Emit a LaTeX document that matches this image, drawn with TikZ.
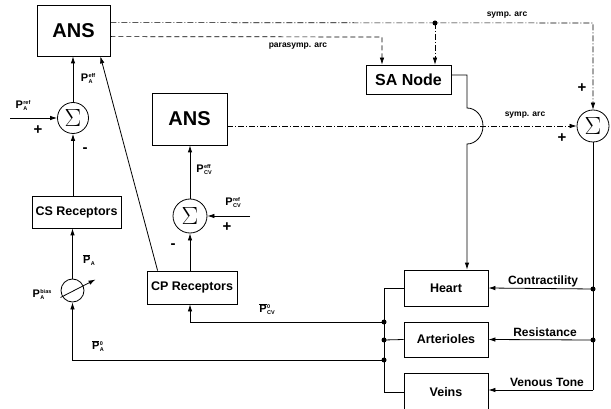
\documentclass[tikz,border=0pt]{standalone}
\usepackage[no-math]{fontspec}
\setmainfont{Liberation Sans}
\usetikzlibrary{arrows.meta,calc}
\newcommand{\labstack}[2]{\kern0.4pt\raisebox{-1.8pt}{\fontsize{5.5}{6.6}\selectfont\bfseries\begin{tabular}[b]{@{}l@{}}#2\\#1\end{tabular}}}
\newcommand{\PL}[2]{\textbf{P}\labstack{#1}{#2}}
\newcommand{\PO}[2]{$\overline{\mbox{\textbf{P}}}$\labstack{#1}{#2}}
\begin{document}
\begin{tikzpicture}[x=1pt,y=-1pt,
  line width=0.8pt,
  box/.style={draw,inner sep=0pt,font=\fontsize{12.5}{14}\selectfont\bfseries},
  bigbox/.style={draw,inner sep=0pt,font=\fontsize{20}{24}\selectfont\bfseries},
  sumnode/.style={draw,circle,inner sep=0pt,font=\fontsize{23}{24}\selectfont},
  arr/.style={-{Latex[length=7pt,width=4.5pt]}},
  dd/.style={dash pattern=on 6pt off 2pt on 1pt off 2pt, line width=0.6pt},
  dsh/.style={dash pattern=on 5pt off 3pt, line width=0.7pt},
  dot/.style={circle,fill,inner sep=0pt,minimum size=5pt},
  plab/.style={font=\fontsize{11}{12}\selectfont\bfseries,inner sep=0pt},
  arclab/.style={font=\fontsize{8.5}{10}\selectfont\bfseries,inner sep=0pt},
  sign/.style={font=\fontsize{15}{15}\selectfont\bfseries,inner sep=0pt},
  flab/.style={font=\fontsize{12}{14}\selectfont\bfseries,inner sep=0pt}]
\useasboundingbox (0,0) rectangle (611,409);

% boxes
\node[bigbox,minimum width=73pt,minimum height=51pt] (ans1) at (73.5,30.5) {ANS};
\node[bigbox,minimum width=75pt,minimum height=52pt] (ans2) at (189.5,119) {ANS};
\node[draw,inner sep=0pt,minimum width=85pt,minimum height=29pt,font=\fontsize{16}{19}\selectfont\bfseries] (sa) at (408.5,79.5) {SA Node};
\node[box,minimum width=89pt,minimum height=32pt] (cs) at (76.5,212) {CS Receptors};
\node[box,minimum width=90pt,minimum height=33pt] (cp) at (192,287.5) {CP Receptors};
\node[box,minimum width=84pt,minimum height=36pt] (heart) at (446,288) {Heart};
\node[box,minimum width=84pt,minimum height=35pt] (art) at (446,339.5) {Arterioles};
\node[box,minimum width=84pt,minimum height=38pt,text depth=0pt] (veins) at (446,392) {Veins};

% summing junctions
\node[sumnode,minimum size=31pt] (s1) at (73,118) {$\Sigma$};
\node[sumnode,minimum size=34pt] (s3) at (190,216) {$\Sigma$};
\node[sumnode,minimum size=32pt] (s2) at (593,126) {$\Sigma$};
\node[draw,circle,minimum size=23pt,inner sep=0pt] (baro) at (72.5,290.5) {};
\draw[arr] ($(baro.center)+(-12,7)$) -- ($(baro.center)+(23,-11)$);

% coordinates
\coordinate (pin1) at (10,118);
\coordinate (pin3) at (250,216);
\coordinate (tr) at (593,23);
\coordinate (jsa) at (435,23);
\coordinate (pd) at (382,37);
\coordinate (bus1) at (384,322);
\coordinate (bus2) at (384,340);
\coordinate (bus3) at (384,360);
\coordinate (rc) at (593,289);
\coordinate (rr) at (593,340);
\coordinate (rv) at (593,390);
\coordinate (sao) at (451,75);
\coordinate (sac) at (467,75);
\coordinate (bumpA) at (467,108);

% left loop
\draw[arr] (pin1) -- (s1.west);
\draw[arr] (s1.north) -- (s1.north |- ans1.south);
\draw[arr] (cs.north -| s1) -- (s1.south);
\draw[arr] (baro.north) -- (baro.north |- cs.south);
\draw[arr] (bus3) -- (bus3 -| baro) -- (baro.south);
\draw[arr] ($(cp.north west)+(11,0)$) -- ($(ans1.south east)+(-10,0)$);

% CP loop
\draw[arr] (pin3) -- (s3.east);
\draw[arr] (s3.north) -- (s3.north |- ans2.south);
\draw[arr] (cp.north -| s3) -- (s3.south);
\draw[arr] (bus1) -- (bus1 -| s3) -- (s3 |- cp.south);

% ANS outputs
\draw[dd,arr] ($(ans1.north east)+(0,18)$) -- (tr) -- (s2.north);
\draw[dd,arr] (jsa) -- (jsa |- sa.north);
\draw[dsh,arr] ($(ans1.north east)+(0,32)$) -- (pd) -- (pd |- sa.north);
\draw[dd,arr] (ans2.east |- s2) -- (s2.west);

% SA node to heart with jump
\draw[arr] (sao) -- (sac) -- (bumpA)
  arc[start angle=-90,end angle=90,x radius=16,y radius=18] -- (sac |- heart.north);

% left bus
\draw (heart.west) -- (heart.west -| bus1) -- (veins.west -| bus1) coordinate (vb) -- (vb -| veins.west);
\draw (bus2) -- (art.west);

% right side
\draw (s2.south) -- (rv);
\draw[arr] (rc) -- (heart.east);
\draw[arr] (rr) -- (art.east);
\draw[arr] (rv) -- (rv -| veins.east);

% dots
\foreach \c in {jsa,bus1,bus2,bus3,rc,rr} \node[dot] at (\c) {};

% labels
\node[plab] at (23,106) {\PL{A}{ref}};
\node[sign] at (38,130) {+};
\node[plab] at (88,79) {\PL{A}{eff}};
\node[sign] at (85,150) {-};
\node[plab] at (89,261) {\PO{A}{}};
\node[plab] at (42,295) {\PL{A}{bias}};
\node[plab] at (98,347) {\PO{A}{0}};
\node[plab] at (204,170) {\PL{CV}{eff}};
\node[plab] at (233,203) {\PL{CV}{ref}};
\node[sign] at (227,227) {+};
\node[sign] at (173,246) {-};
\node[plab] at (267,310) {\PO{CV}{0}};
\node[arclab] at (507,15) {symp. arc};
\node[arclab] at (298,46) {parasymp. arc};
\node[arclab] at (525,115) {symp. arc};
\node[sign] at (582,88) {+};
\node[sign] at (562,138) {+};
\node[flab] at (543,281) {Contractility};
\node[flab] at (545,332) {Resistance};
\node[flab] at (547,382) {Venous Tone};
\end{tikzpicture}
\end{document}
